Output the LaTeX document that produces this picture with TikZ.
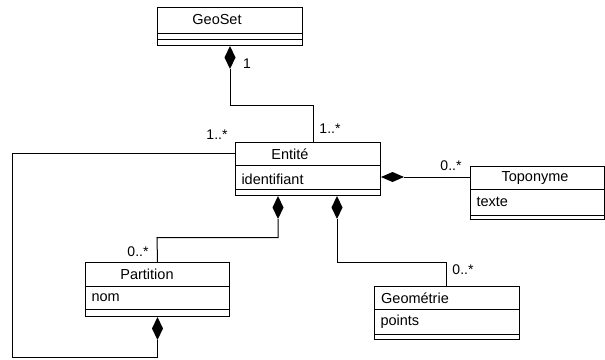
\documentclass[tikz,border=0pt]{standalone}
\usepackage{fontspec}
\setmainfont{Liberation Sans}
\usetikzlibrary{calc}
\begin{document}
\begin{tikzpicture}[x=1pt,y=-1pt,line width=1pt,
  cls/.style={draw, inner sep=0pt, anchor=north west},
  txt/.style={font=\fontsize{14.5}{17}\selectfont, inner sep=0pt},
  attr/.style={txt, anchor=west},
  mult/.style={font=\fontsize{14}{16}\selectfont, inner sep=0pt},
  link/.style={draw, line width=1pt},
  diam/.style={fill=black}]
\useasboundingbox (0,0) rectangle (605,359);
% classes
\node[cls, minimum width=145pt, minimum height=38pt] (geoset) at (157,7) {};
\draw ($(geoset.north west)+(0,26)$) -- ($(geoset.north east)+(0,26)$);
\draw ($(geoset.north west)+(0,32)$) -- ($(geoset.north east)+(0,32)$);
\node[txt] (geosetname) at (217,20) {GeoSet};

\node[cls, minimum width=145pt, minimum height=53pt] (entite) at (235,142) {};
\draw ($(entite.north west)+(0,23)$) -- ($(entite.north east)+(0,23)$);
\draw ($(entite.north west)+(0,47)$) -- ($(entite.north east)+(0,47)$);
\node[txt] (entitename) at (290,154) {Entité};
\node[attr] (entiteattr) at (241,179) {identifiant};

\node[cls, minimum width=134pt, minimum height=53pt] (topo) at (470,166) {};
\draw ($(topo.north west)+(0,23)$) -- ($(topo.north east)+(0,23)$);
\draw ($(topo.north west)+(0,49)$) -- ($(topo.north east)+(0,49)$);
\node[txt] (toponame) at (535,178) {Toponyme};
\node[attr] (topoattr) at (476,202) {texte};

\node[cls, minimum width=144pt, minimum height=54pt] (part) at (85,262) {};
\draw ($(part.north west)+(0,24)$) -- ($(part.north east)+(0,24)$);
\draw ($(part.north west)+(0,47)$) -- ($(part.north east)+(0,47)$);
\node[txt] (partname) at (147,274) {Partition};
\node[attr] (partattr) at (91,298) {nom};

\node[cls, minimum width=145pt, minimum height=53pt] (geom) at (374,286) {};
\draw ($(geom.north west)+(0,23)$) -- ($(geom.north east)+(0,23)$);
\draw ($(geom.north west)+(0,48)$) -- ($(geom.north east)+(0,48)$);
\node[txt] (geomname) at (415,298) {Geométrie};
\node[attr] (geomattr) at (380,322) {points};

% diamonds and connectors
% GeoSet -- Entite
\coordinate (g0) at (geoset.south);
\fill[diam] (g0) -- ++(5.5,11.5) -- ++(-5.5,11.5) -- ++(-5.5,-11.5) -- cycle;
\coordinate (g1) at ($(g0)+(0,23)$);
\coordinate (e0) at ($(entite.north)+(5.5,0)$);
\draw[link] (g1) |- ($(e0)+(0,-37)$) -- (e0);
\node[mult] (m1) at (247,64) {1};
\node[mult] (m2) at (330,129) {1..*};

% Entite self loop via Partition
\coordinate (e1) at ($(entite.north west)+(0,11)$);
\coordinate (p0) at (part.south);
\fill[diam] (p0) -- ++(5.5,11.5) -- ++(-5.5,11.5) -- ++(-5.5,-11.5) -- cycle;
\coordinate (p1) at ($(p0)+(0,23)$);
\draw[link] (e1) -- (12,153) -- (12,357) -| (p1);
\node[mult] (m3) at (217,135) {1..*};

% Entite -- Partition
\coordinate (e2) at ($(entite.south west)+(43,0)$);
\fill[diam] (e2) -- ++(5.5,11.5) -- ++(-5.5,11.5) -- ++(-5.5,-11.5) -- cycle;
\coordinate (e2b) at ($(e2)+(0,23)$);
\draw[link] (e2b) |- (157,237.5) -- (part.north);
\node[mult] (m4) at (138,252) {0..*};

% Entite -- Geometrie
\coordinate (e3) at ($(entite.south west)+(102,0)$);
\fill[diam] (e3) -- ++(5.5,11.5) -- ++(-5.5,11.5) -- ++(-5.5,-11.5) -- cycle;
\coordinate (e3b) at ($(e3)+(0,23)$);
\draw[link] (e3b) |- (446,262) -- (geom.north -| 446,0);
\node[mult] (m5) at (463,270) {0..*};

% Entite -- Toponyme
\coordinate (e4) at ($(entite.north east)+(0,35)$);
\fill[diam] (e4) -- ++(11.5,-5) -- ++(11.5,5) -- ++(-11.5,5) -- cycle;
\coordinate (e4b) at ($(e4)+(23,0)$);
\draw[link] (e4b) -- (e4b -| topo.west);
\node[mult] (m6) at (451,166) {0..*};
\end{tikzpicture}
\end{document}
